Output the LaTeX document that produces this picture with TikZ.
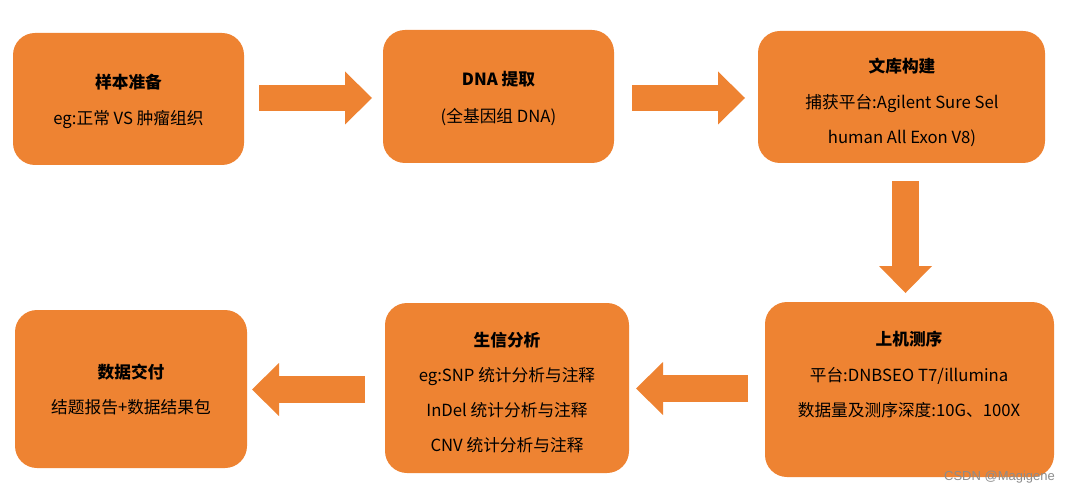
\documentclass[tikz,border=0pt]{standalone}
\usepackage{fontspec}
\setmainfont{Noto Sans CJK SC}
\newfontfamily\markfont{Liberation Sans}
\usetikzlibrary{arrows.meta}
\definecolor{flow}{HTML}{EE8332}

\begin{document}
\begin{tikzpicture}[x=1pt,y=-1pt,
  stage/.style={fill=flow, rounded corners=22pt, inner sep=0pt},
  stagetext/.style={align=center, inner sep=0pt, text=black},
  blockarrow/.style={draw=flow, line width=26.5pt,
    -{Triangle[width=53pt,length=27pt,line width=0pt]}}]
\useasboundingbox (0,0) rectangle (1070,494);

% process stages
\node[stage, minimum width=231pt, minimum height=132pt] (s1) at (128.5,99) {};
\node[stage, minimum width=231pt, minimum height=133pt] (s2) at (498.5,96.5) {};
\node[stage, minimum width=287pt, minimum height=132pt] (s3) at (901.5,97) {};
\node[stage, minimum width=289pt, minimum height=175pt] (s4) at (909.5,389.5) {};
\node[stage, minimum width=244pt, minimum height=170pt] (s5) at (507,388) {};
\node[stage, minimum width=232pt, minimum height=158pt] (s6) at (131,389) {};

% stage texts
\node[stagetext, font=\fontsize{16.7}{36}\selectfont] (t1) at (128.5,101)
  {\textbf{样本准备}\\eg:正常 VS 肿瘤组织};
\node[stagetext, font=\fontsize{16.7}{37}\selectfont] (t2) at (498.5,98.5)
  {\textbf{DNA 提取}\\(全基因组 DNA)};
\node[stagetext, font=\fontsize{16.7}{35.5}\selectfont] (t3) at (902,102.5)
  {\textbf{文库构建}\\捕获平台:Agilent Sure Sel\\human All Exon V8)};
\node[stagetext, font=\fontsize{16.7}{35.5}\selectfont] (t4) at (909,374.5)
  {\textbf{上机测序}\\平台:DNBSEO T7/illumina\\数据量及测序深度:10G、100X};
\node[stagetext, font=\fontsize{16.7}{35}\selectfont] (t5) at (507,392.5)
  {\textbf{生信分析}\\eg:SNP 统计分析与注释\\InDel 统计分析与注释\\CNV 统计分析与注释};
\node[stagetext, font=\fontsize{16.7}{35}\selectfont] (t6) at (131,389.5)
  {\textbf{数据交付}\\结题报告+数据结果包};

% arrow end points
\coordinate (a1a) at (259,98);    \coordinate (a1b) at (372,98);
\coordinate (a2a) at (632,98);    \coordinate (a2b) at (745,98);
\coordinate (a3a) at (905.5,181); \coordinate (a3b) at (905.5,293);
\coordinate (a4a) at (748,388.5); \coordinate (a4b) at (636,388.5);
\coordinate (a5a) at (365,389.5); \coordinate (a5b) at (252,389.5);

\draw[blockarrow] (a1a) -- (a1b);
\draw[blockarrow] (a2a) -- (a2b);
\draw[blockarrow] (a3a) -- (a3b);
\draw[blockarrow] (a4a) -- (a4b);
\draw[blockarrow] (a5a) -- (a5b);

% source mark
\node[text=black!45, font=\markfont\fontsize{13}{15}\selectfont, inner sep=0pt]
  (mark) at (999.5,477) {CSDN @Magigene};
\end{tikzpicture}
\end{document}
